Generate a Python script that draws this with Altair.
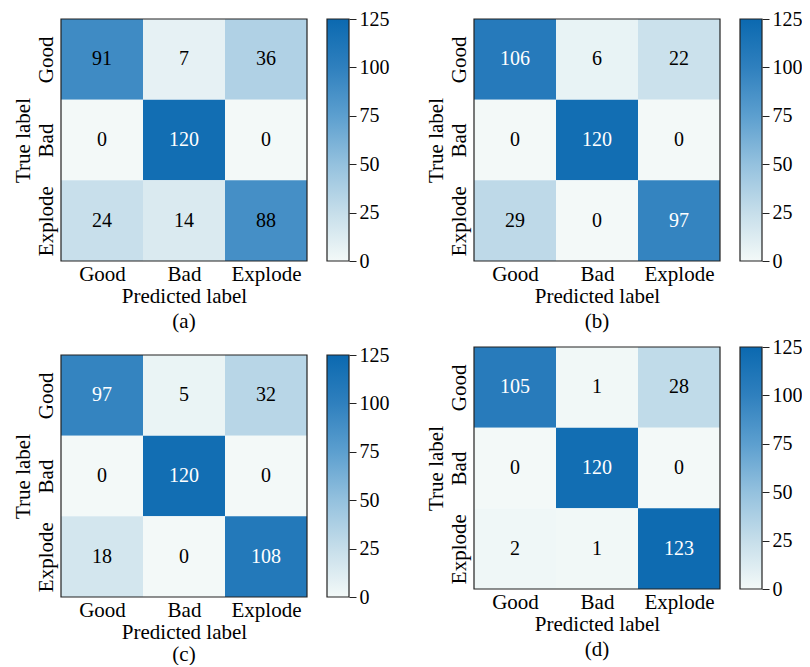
import altair as alt
import pandas as pd

categories = ["Good", "Bad", "Explode"]
cm_a = [[91, 7, 36], [0, 120, 0], [24, 14, 88]]
cm_b = [[106, 6, 22], [0, 120, 0], [29, 0, 97]]
cm_c = [[97, 5, 32], [0, 120, 0], [18, 0, 108]]
cm_d = [[105, 1, 28], [0, 120, 0], [2, 1, 123]]
captions = ["(a)", "(b)", "(c)", "(d)"]
cbar_ticks = [0, 25, 50, 75, 100, 125]

palette = ["#f3f9f8", "#c6deea", "#94c1de", "#5c9fcf", "#2f80be", "#0b69b0"]
FONT = "Liberation Serif"
HM_W = 246
CB_X0, CB_X1 = 266, 288
PANEL_W, PANEL_H = 288, 242
VMAX = 125

label_expr = "[" + ",".join("'%s'" % c for c in categories) + "][floor(datum.value)]"


def panel(cm, caption, cap_offset):
    rows = []
    for i, t in enumerate(categories):
        for j, p in enumerate(categories):
            rows.append({"true": t, "pred": p, "count": cm[i][j], "ti": i, "pi": j})
    df = pd.DataFrame(rows)
    n = len(categories)

    xs = alt.Scale(domain=[0, n], range=[0, HM_W], nice=False, zero=False)
    ys = alt.Scale(domain=[0, n], reverse=True, nice=False, zero=False)
    xaxis = alt.Axis(values=[k + 0.5 for k in range(n)], labelExpr=label_expr,
                     ticks=False, domain=False, grid=False, labelFontSize=21,
                     labelPadding=2, labelAngle=0, title="Predicted label",
                     titleFontSize=21, titleFontWeight="normal", titlePadding=1,
                     labelColor="black", titleColor="black")
    yaxis = alt.Axis(values=[k + 0.5 for k in range(n)], labelExpr=label_expr,
                     ticks=False, domain=False, grid=False, labelFontSize=21,
                     labelPadding=5, labelAngle=270, labelAlign="center",
                     labelBaseline="bottom", title="True label", titleFontSize=21,
                     titleFontWeight="normal", titlePadding=2,
                     labelColor="black", titleColor="black")
    color_scale = alt.Scale(domain=[0, VMAX], range=palette, interpolate="rgb")

    base = alt.Chart(df).transform_calculate(
        pi2="datum.pi + 1", ti2="datum.ti + 1",
        pc="datum.pi + 0.5", tc="datum.ti + 0.5")

    cells = base.mark_rect().encode(
        x=alt.X("pi:Q", scale=xs, axis=xaxis),
        x2="pi2:Q",
        y=alt.Y("ti:Q", scale=ys, axis=yaxis),
        y2="ti2:Q",
        color=alt.Color("count:Q", scale=color_scale, legend=None),
    )
    texts = base.mark_text(fontSize=20, font=FONT).encode(
        x="pc:Q", y="tc:Q", text="count:Q",
        color=alt.condition("datum.count > 95", alt.value("white"), alt.value("black")),
    )
    frame = alt.Chart(pd.DataFrame({"k": [0]})).mark_rect(
        filled=False, stroke="#222222", strokeWidth=1.2).encode(
        x=alt.X(datum=0), x2=alt.X2(datum=n),
        y=alt.Y(datum=0), y2=alt.Y2(datum=n))
    heat = alt.layer(cells, texts, frame)

    grad = alt.Gradient(
        gradient="linear", x1=0, y1=1, x2=0, y2=0,
        stops=[alt.GradientStop(color=c, offset=k / (len(palette) - 1))
               for k, c in enumerate(palette)])
    cbar = alt.Chart(pd.DataFrame({"k": [0]})).mark_rect(
        fill=grad, stroke="#222222", strokeWidth=1.2).encode(
        x=alt.X(datum=0, scale=alt.Scale(domain=[0, 1], range=[CB_X0, CB_X1]), axis=None),
        x2=alt.X2(datum=1),
        y=alt.Y(datum=0, scale=alt.Scale(domain=[0, VMAX], nice=False),
                axis=alt.Axis(orient="right", values=cbar_ticks, ticks=True,
                              tickSize=7, tickColor="#222222", domain=False,
                              grid=False, labelPadding=3, labelFontSize=20,
                              labelColor="black", title=None)),
        y2=alt.Y2(datum=VMAX),
    )
    return alt.layer(heat, cbar).resolve_scale(
        x="independent", y="independent", color="independent"
    ).properties(
        width=PANEL_W, height=PANEL_H,
        title=alt.TitleParams(caption, orient="bottom", fontSize=21, font=FONT,
                              fontWeight="normal", dx=-(PANEL_W - HM_W) / 2,
                              offset=cap_offset, color="black"),
    )


pa = panel(cm_a, captions[0], 5)
pb = panel(cm_b, captions[1], 5)
pc = panel(cm_c, captions[2], 2)
pd_ = panel(cm_d, captions[3], 5)

chart = alt.hconcat(
    alt.vconcat(pa, pc, spacing=13),
    alt.vconcat(pb, pd_, spacing=5),
    spacing=36,
).properties(
    padding={"left": 4, "top": 1, "right": 0, "bottom": 0}
).configure(font=FONT).configure_view(stroke=None).configure_axis(
    labelFont=FONT, titleFont=FONT)

chart.save("out.html", embed_options={"renderer": "svg", "actions": False})
